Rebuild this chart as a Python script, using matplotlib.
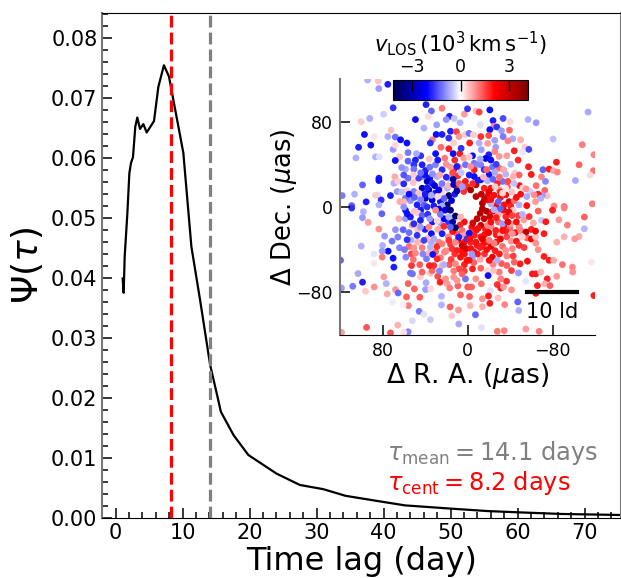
import numpy as np
import matplotlib
matplotlib.use('Agg')
import matplotlib.pyplot as plt
from matplotlib.ticker import MultipleLocator

plt.rcParams['mathtext.fontset'] = 'dejavusans'

# transfer function
tau = [1.04, 1.19, 1.34, 1.74, 2.04, 2.28, 2.58, 2.93, 3.23, 3.63, 4.13, 4.63, 5.72, 6.37, 7.2,
       7.96, 8.46, 9.36, 10.1, 11.3, 12.6, 14.1, 15.3, 15.7, 17.6, 19.8, 24, 27.5, 31, 34.3,
       38.7, 43.2, 50.2, 55.6, 60, 66.6, 75.5]
psi = [.0399, .0375, .0435, .0507, .0574, .0591, .0601, .0652, .0667, .0648, .0656, .0642, .0661, .0718, .0754,
       .0735, .0705, .0652, .0608, .0452, .0363, .0255, .0197, .0177, .0138, .0105, .0074, .0055, .0048, .0037,
       .0029, .0021, .00155, .00115, .00095, .00067, .0005]
tau_mean = 14.1
tau_cent = 8.2

# clouds, (R.A. offset, Dec. offset, v_los), one list per quadrant
clouds_ne = [
 (94,119,-.65),(84,118,.5),(75,115,-1.85),(83.5,111,-.8),(70,93,-1.7),(79,87,-.4),(39,96,-1.85),(34,90,-1.3),
 (24,92.5,1.05),(37,85,.3),(49,82,-2),(100,80,.4),(92,83,-.65),(17,85,-1.85),(12.5,83,-.5),(3,87,.8),(7,79,-.65),
 (29,77,-.8),(20,82,-.9),(41,74,-.65),(72,72,.5),(97,68,-2),(88,66,.2),(75,66,-.65),(68,65.6,-1.15),(63,63,-2),
 (57,60,-2),(102.5,56,-1.85),(91,58,-2),(70,54,-.85),(68,58,.3),(105,46,-.65),(86.6,47,-.65),(83,47,-.25),(56,51,-1.1),
 (64,47,.5),(68,43.6,-2),(56,43,-1.3),(49,44,-1.85),(44,48,-1.7),(33,63,1.05),(35,60,-1.7),(29.5,68,-2),(24,68,-1.85),
 (17.6,64.6,-1.7),(16,71,-1.85),(10.4,70.6,1.55),(8,66,.85),(2,68,.4),
 (68.4,28.3,.7),(83.4,27,-1.9),(83.4,24.8,-2),(67.8,23,.5),(58.4,35.5,-.7),(50.5,39.6,-1.7),(50.5,35.5,-1.15),
 (42.7,39.6,-1.85),(39.6,34.2,-1.85),(35.5,37.4,-1.15),(30.2,39.6,-1.05),(23.9,34.9,-1.75),(17.6,54.6,1.85),(13.5,50,-2),
 (7.3,50,1.85),(21.4,45.8,1.1),(3.5,45.8,.8),(13,34.9,1.9),(8.2,37.4,1),(16,37.4,.8),(2,39.6,-1.15),(35.5,27,-2),
 (28.6,28.6,-.7),(17.6,27,-.65),(9.2,29.2,1.7),(2,24,1.9),(72.5,10.7,-1.9),(98.8,20.7,-1.3),(84.4,11.4,-.25),(106.3,12,-.65),
 (118,10.7,-1.1),(86.6,11,.4),(81.3,6.6,-1.7),(95.4,4.8,-1.85),(109,1.3,-1.3),(83.4,2,-.65),(69.3,22.3,-.65),(65.6,24,.45),
 (60,21.7,-1.75),(51,23,.5),(42.7,28.6,-1.15),(38,24,-3.1),(33.3,22.3,-1.85),(25.5,19,.6),(19,17.6,-.65),(13.5,26,-3.3),
 (9.8,17.6,1.7),(3.5,14.5,1.7),(.4,19,1.75),(66.2,14.5,-.85),(56.8,15.4,.45),(50.5,14.5,-1.05),(42.7,17.6,-2.8),
 (36.4,16,-3.1),(30.2,13,-2),(23.9,13,.3),(17.6,10.7,-3.9),(19,2,-3.7),(25.5,5,-2),(33.3,6.6,-2.4),(39.6,8.2,-2.9),
 (47.4,2,-1.85),(53.7,6,-.9),(58.4,8.2,-1.15),(63.7,5,.7),(41,2,-1.3),(31.7,1,-1.9),(23.9,1,-.7),
]
clouds_nw = [
 (0,92,-1.7),(-8,90,.5),(-11,89,1.55),(-21,91,-2),(-113.5,89,-.7),(-33.5,83,-1.5),(-24,81,-1.85),(-40,80,.3),
 (-57,82,-.65),(-64.6,79,-.85),(-12,77,-.25),(-25,75.6,1),(-27.6,75,-1.7),(-21,72.5,-2),(-32,71.5,-.8),(-39.5,72,1.25),
 (-1.5,69,-1.15),(-5.6,67.8,.4),(-12.5,66,1.7),(-20,67,1.5),(-33.5,66,-1.1),(-42.6,64,-.7),(-50,63,.65),(-38,62,1),
 (-25.7,62.5,-.8),(-80.6,63.7,-.5),(-2,60,1.85),(-11,60,-.65),(-19,59.6,.8),(-108,58.4,1.05),(-54,56,.4),(-57.7,54,-1.5),
 (-26.6,56,-.8),(-13,53.7,-.8),(-44,52.7,1.85),(-51.7,51.8,-.2),(-119,49,1),(-37,48,.8),(-29.8,47.4,.85),
 (-25.7,52,1),(-20,49,-1.85),(-4.7,48,-2),(-1.6,47,.4),(-17,45.5,-2.4),(-22,44,-2),(-47.6,44,1.75),(-83.7,42,1.9),
 (-105,39.6,1.3),(-6.3,41,-1.15),(-12.5,39.5,-1.05),(-40.7,40,-.65),(-57.4,37.7,1.85),(-71,35,-1.3),(-76.8,35.5,1.9),
 (-81,34,.7),(-84.6,32.7,1),(-118.5,34,1.15),(-29.8,36.4,1.15),(-23.5,37.4,-1.15),(-6.3,35,1.85),(-15.7,35,-1.7),
 (-1.6,30,-1.85),(-6.3,28.6,-2),(-12.5,25.5,-2.4),(-20.4,30.5,-2),(-25.7,32.4,-.7),(-36,30.8,-.6),(-44.5,31.7,.45),
 (-48.6,30,1.25),(-60,30.5,1.9),(-69.6,28.3,1),(-73.4,24,-1),(-101.6,24.8,-.7),(-115.4,30,.3),(-64.6,20,1.15),
 (-43,28.6,.65),(-18.8,24.5,-.65),(-33,24,-1.15),(-28,22,1.85),(-37.6,19,1.3),(-22,17.6,2),(-15.7,17.6,1.85),(-8,20.8,3.1),
 (-3,16,3.5),(-49,20,2),(-59,14.5,-.4),(-72.7,15.5,1.3),(-75,10.4,.5),(-70.5,11,-.8),(-66.5,12,1.85),(-62.7,11.4,.9),
 (-50,12,2),(-55.8,9.8,-.7),(-69,8.2,-.65),(-64,5,.85),(-117.5,3,1.1),(-81.5,1,1),(-91,.4,1.25),(-55.8,1.3,2),
 (-48.6,2,-.65),(-14,3.5,3.3),(-8,9.8,3.1),(-18.8,9.8,2.5),(-25,11,2),(-31,9,2),(-36,11.4,2),(-39,5,2.8),(-34.5,2,2),
 (-26.6,1.3,2.2),(-22,3,-.65),(-40.7,.9,1.85),(-19,6.6,1.9),(-30,16,.9),(-36,17.6,.2),
]
clouds_se = [
 (109,-1,-1.7),(98,-4.4,-.65),(98.8,-10,-.85),(80.6,-6.3,-1.3),(93.5,-14.4,.8),(83.4,-20.7,.9),(67.8,-21.3,-.9),
 (60.6,-21.3,-1.3),(78,-27.3,-.85),(65.6,-28.2,-1.05),(71,-32,-1.15),(56.8,-30.7,-1.7),(100,-36.7,-.65),(80,-36,-.65),
 (74.7,-41.4,-2),(80.3,-41.4,-.8),(88,-44,-.2),(64,-38.2,-1),(55,-37,1.15),(59.3,-40,-1.1),(80.3,-47,1.05),(70,-48,-2),
 (88,-52.7,.2),(69.3,-56.4,-1.85),(51.8,-62.7,-1.15),(103,-62.4,-.7),(78.7,-65.5,.8),(76.5,-71.8,-.65),(98.8,-70.5,-1.85),
 (108,-74.3,-1.1),(87.8,-75,.9),(96,-79,.45),(118.6,-76,-.8),(75.6,-81.5,.7),(67.8,-77.4,.85),(65.3,-80.6,-1.25),
 (57.4,-84.3,1.3),(55.6,-92.5,1.05),(60.6,-91.8,.15),(44.9,-84.6,1.35),(70.6,-89.3,-.15),(24.5,-91.8,-.65),(16.4,-93.7,1.3),
 (14.8,-101.9,.45),(8.5,-96.6,.85),(8.2,-109.7,-.7),(45.5,-97.8,-1.1),(41,-100.6,-.25),(34.9,-105.6,-.45),(52,-106.6,-.3),
 (65.6,-110.7,.65),(95,-112.9,1.4),(72.5,-118,1.4),(55.9,-117,-1),(60,-117.6,.25),(119.5,-50,-1.3),(118.6,-117.6,.8),
 (55.9,-71.8,1.3),(50,-76.8,1.3),(39,-71,-.7),(39.5,-77.4,-.8),(25.8,-70.5,1.85),(16.7,-75.9,1.05),(6.6,-82.4,1.3),(-.2,-75,1.4),
 (24.5,-83.7,-.6),(34.5,-76.8,.3),(44.3,-65.5,.4),(53.7,-62,-1.15),(42.7,-61,1.3),(33.3,-59.6,1.25),(26.4,-60,-1),
 (20.7,-67.4,.9),(12.9,-65.8,.9),(9.8,-69,.85),(1.9,-67.4,-1.15),(5.1,-62.7,1.3),(31.7,-54.9,1.7),(35.8,-54.9,1.85),
 (44.9,-54,1.35),(52.7,-54.9,1.7),(51,-49.2,1.15),(38.6,-48.6,-1.1),(32.7,-44.5,-2),(25.5,-47.6,1.1),(15.4,-49.2,1.6),
 (22.3,-54,-.65),(11.4,-53.3,1),(2.9,-54,1.85),(28.6,-48.6,1.75),(49,-43.3,1),(42.7,-38.2,1.05),(50.5,-38.2,.9),
 (34.9,-37.6,-.65),(28.6,-37,1.75),(21.7,-42.3,1),(14.5,-39.2,1.7),(9.8,-40.8,1.85),(2.9,-44,2),(6.6,-47,2),(.4,-50,2),
 (5.1,-36,2.8),(1,-39,2.8),(58.4,-3,-1.85),(64.6,-11,.65),(58.4,-11,-.85),(53.7,-9.4,-1.85),(46.8,-5.6,.4),(42.7,-7.8,-1.3),
 (37.4,-6.9,-1.7),(30,-3,1),(25.5,-7,-1.1),(11.4,-8.5,-3.9),(17.6,-9.4,-.65),(6.6,-9.4,.65),(28.6,-13,.3),(22.3,-18.2,1.75),
 (11.4,-19.4,-3.9),(16.1,-18.8,-1.3),(23.9,-25,-1.85),(31.7,-29.8,-.7),(44.3,-18.8,-.8),(52,-17,.8),(36.4,-18.8,1),
 (47.4,-26.6,-1.7),(38,-29.8,.65),(41,-31.3,-1.55),(17.6,-31.3,1.7),(11.4,-33,1),(23.9,-34.5,1.05),(3.5,-26.6,.85),
 (8.2,-28.2,-1.85),(.4,-29.8,-1.7),(56.8,-6.3,-2),(50.5,-15.7,-1.75),(44.3,-12.5,-1.85),(35.5,-11,-.85),(60,0,-.9),(38,0,-1.7),
]
clouds_sw = [
 (-14,-1.6,3.3),(-25,-2.5,-.65),(-31,-1.6,-1.3),(-39,-4.7,2.4),(-51.7,-7,-.65),(-66.5,-3.8,1.3),(-80,-3,1.85),(-91,-1,1),
 (-110,-9.4,1.3),(-86,-12,.85),(-69.6,-12.5,-.45),(-73.7,-13.8,1.9),(-94,-17,1.05),(-110,-20.4,-.6),(-105,-27.6,.7),
 (-101,-29.8,.85),(-91,-28,.65),(-84,-33,.65),(-60,-21,1.85),(-64,-22.6,2.2),(-72,-25,1.9),(-55,-23.5,3.1),(-48.6,-18.8,1),
 (-40.7,-15.7,.85),(-33,-15.7,-.8),(-15.7,-11,3.1),(-12.5,-17.2,2.9),(-18.8,-17.2,1),(-26.6,-22,1.85),(-36,-22.6,1.85),
 (-42.3,-25,.9),(-51.7,-28,.4),(-64.3,-33.9,.9),(-48.6,-36,1.7),(-53.3,-38,1.6),(-66.5,-40,.9),(-42.3,-39,1),
 (-31,-30,2.4),(-27,-33,2),(-20.4,-31.3,1.1),(-12.5,-28,1.9),(-6.3,-26.6,1.85),(-1.6,-24.5,-2),(-7.8,-33,2),(-14,-36,2),
 (-3,-39,2),(-9.4,-44,1.9),(-4.7,-47,-.85),(-1.6,-50,2),(-23.5,-47,2.4),(-20.4,-50,2),(-28,-50,-.65),(-36,-40.7,.9),
 (-72,-46.4,1.85),(-76.8,-50,1.9),(-81,-50,.7),(-89.3,-54,1.15),(-98.7,-56.4,1),(-99,-61,.9),(-116.6,-51.7,.2),
 (-56.4,-50.8,2),(-49.5,-53.3,1.9),(-44,-51.7,1.25),(-37,-54.9,1.3),(-48,-61.8,-.85),(-41.4,-59.6,1.6),(-29.8,-61,1.1),
 (-24.5,-59.6,.5),(-12.5,-57.4,1.3),(-18.8,-59.6,.3),(-4.7,-58,1.85),(-19.4,-64.3,-2),(-61,-62.7,1.9),(-64.3,-62.7,1.9),
 (-69,-61,.65),(-75,-67.4,1.85),(-84,-65,.85),(-54.9,-69.6,-.2),(-36.7,-69.6,1.75),(-31.3,-67.4,1.05),(-7.8,-67.4,.9),
 (-13,-72,1.15),(-28,-72.7,1.7),(-31.3,-76,1.85),(-33.9,-75,.8),(-41.4,-77.7,.9),(-65.8,-73.7,1.85),(-72.7,-72,.65),
 (-77.7,-73.7,1.3),(-64.3,-80.9,2),(-3.8,-75,1.3),(-21.3,-78.4,-.25),(-119,-83,1.9),(-1.9,-84,1.3),(-19.7,-83.4,1.85),(-14,-86,.9),
 (-28.8,-85.3,.5),(-21,-90.3,1.85),(-35,-91.5,1),(-47.3,-89,-1.3),(-48.3,-97,-.65),(-2.5,-92.5,.6),(-7.5,-101,-1.25),
 (-14,-93.4,.65),(-13.2,-113,-.25),(-28,-116.6,1.1),(-34.5,-116,1),(-54.9,-114.4,.8),(-67.4,-116.6,1.05),
 (-3,-33,1.85),(-10,-20,2),(-16,-26,2),(-22,-14,2),(-27,-10,1.85),(-33,-22,2),(-38,-14,2.5),(-42,-8,1.6),(-46,-14,2),
 (-5,-15,2.8),(-9,-11,3.1),(-12,-38,1.85),(-18,-40,2),(-6,-42,2),(-14,-30,2.5),(-20,-24,2.2),(-25,-34,1.05),(-30,-44,1.9),
 (-2,-30,2),(-4,-44,-.85),
]
# the crowded part round the hole in the middle
clouds_core = [
 (12,12,-1.9),(15,6,-2.5),(10,15,-3),(22,8,-1.3),(28,10,.3),(27,16,-2.2),(34,11,-.7),(40,12,-1.9),(44,7,-1),(46,13,.5),
 (50,9,-1.3),(55,12,-2),(60,5,.6),(62,14,-.5),(38,18,-1.9),(31,20,-2.5),(24,22,-1.1),(18,20,.6),(13,21,-2.9),(8,22,1.3),
 (5,19,-.8),(20,28,-1.8),(26,30,.7),(33,31,-.9),(40,30,-2),(46,27,-1.6),(51,30,.4),(56,27,-1.2),(14,32,1.5),(10,38,-1.9),
 (6,32,-.5),(20,40,.9),(28,44,-1.9),(36,45,.5),(44,32,-1.2),(60,30,-1.4),(62,37,-.9),(48,50,-.7),(30,50,-2),(25,56,1.2),
 (12,44,1.8),(6,55,-1.7),(13,60,.4),
 (-5,22,1.8),(-10,25,-1.9),(-15,28,.6),(-18,35,1.3),(-9,40,-1),(-3,38,.9),(-24,26,-1.3),(-30,28,1.2),(-12,45,-.7),
 (-27,40,-1.6),(-34,35,.7),(-38,24,1.5),(-44,22,-.5),(-42,14,.5),(-31,14,1.9),(-26,19,.4),(-13,12,3.2),(-20,14,2.5),
 (-16,7,3),(-22,7,2),(-29,5,-1.3),(-33,13,.3),(-44,6,1.2),(-46,9,2),(-52,18,.3),(-55,17,.9),
 (-12,-6,3.3),(-18,-4,3.4),(-21,-9,2.8),(-24,-4,2.2),(-29,-7,.7),(-34,-3,2.1),(-36,-9,1.8),(-43,-3,.4),(-48,-8,1.6),
 (-53,-12,.8),(-58,-9,1.7),(-62,-15,.7),(-29,-14,1.3),(-34,-18,2),(-40,-20,1.2),(-45,-24,2),(-50,-22,1),(-56,-29,1.3),
 (-60,-30,2.2),(-64,-28,.5),(-17,-21,1.9),(-22,-18,1),(-27,-26,1.9),(-31,-25,.6),(-37,-28,1.5),(-41,-32,.9),(-46,-32,1.9),
 (-8,-22,2),(-4,-19,2),(-3,-24,1.6),(-9,-36,1.9),(-17,-33,2),(-22,-37,2.3),(-16,-44,1.7),(-26,-41,1.9),(-33,-37,1.2),
 (-37,-46,1),(-43,-46,1.6),(-12,-49,.7),(-24,-54,1),(-6,-52,1.3),(-32,-53,1.4),
 (3,-14,2),(7,-17,1.8),(5,-22,1.2),(10,-25,1.3),(14,-23,2),(18,-28,1),(9,-31,2.4),(3,-33,2),(6,-41,2),(12,-44,1.7),
 (16,-35,1.6),(20,-41,.9),(27,-33,1),(34,-33,-.7),(30,-42,1.3),(36,-43,.6),(42,-44,-1),(47,-33,.6),(53,-44,1.5),(58,-47,-1),
 (17,-54,1.4),(8,-58,1.5),(13,-60,1.1),(24,-55,.6),(28,-65,1.5),(35,-62,.5),(19,-72,.8),(9,-74,1.3),(3,-60,1.6),(12,-11,.5),
 (18,-14,-1.7),(25,-15,-.7),(33,-14,-1.9),(22,-11,-2.2),(40,-21,-1.9),(28,-21,.7),(47,-21,.5),(55,-24,-1.2),(53,-31,-.6),
 (34,-25,-2),(44,-3,-1.9),(50,-4,.5),(27,-2,-2.4),(21,-3,-2.7),(16,-3,-3.6),(14,-14,-3.2),
]

fig = plt.figure(figsize=(6.21, 5.78), dpi=100)
ax = fig.add_axes([102.3/621, 1-518/578, (620.7-102.3)/621, (518-13)/578])
ax.plot(tau, psi, color='k', lw=1.6)
ax.axvline(tau_cent, color='red', ls='--', lw=2.3)
ax.axvline(tau_mean, color='gray', ls='--', lw=2.3)
ax.set_xlim(-2, 75.4)
ax.set_ylim(0, 0.0841)
ax.xaxis.set_major_locator(MultipleLocator(10))
ax.xaxis.set_minor_locator(MultipleLocator(2))
ax.yaxis.set_major_locator(MultipleLocator(0.01))
ax.yaxis.set_minor_locator(MultipleLocator(0.002))
ax.tick_params(which='major', direction='in', length=7.5, width=1.1, labelsize=15)
ax.tick_params(which='minor', direction='in', length=4.5, width=1.1)
for side in ['left', 'right']:
    ax.spines[side].set_color('#777777')
    ax.spines[side].set_linewidth(1.5)
ax.set_xlabel('Time lag (day)', fontsize=23, labelpad=2)
ax.set_ylabel(r'$\Psi(\tau)$', fontsize=26, labelpad=4)
ax.text(0.55, 0.115, r'$\tau_{\rm mean} = 14.1$ days', color='gray', fontsize=17.3, transform=ax.transAxes)
ax.text(0.55, 0.055, r'$\tau_{\rm cent} = 8.2$ days', color='red', fontsize=17.3, transform=ax.transAxes)

# inset with the BLR clouds
ins = fig.add_axes([340/621, 1-335/578, 255/621, 256/578])
cloud_pts = np.array(clouds_ne + clouds_nw + clouds_core + clouds_se + clouds_sw)
sc = ins.scatter(cloud_pts[:, 0], cloud_pts[:, 1], c=cloud_pts[:, 2], cmap='seismic', vmin=-4.2, vmax=4.2, s=24, lw=0)
ins.set_xlim(120, -120)
ins.set_ylim(-120, 120)
ins.set_xticks([80, 0, -80])
ins.set_yticks([80, 0, -80])
ins.tick_params(direction='in', length=7.5, width=1.1, labelsize=12.5, pad=5)
ins.spines['top'].set_visible(False)
ins.spines['right'].set_visible(False)
ins.spines['left'].set_color('#777777')
ins.spines['left'].set_linewidth(1.5)
ins.patch.set_alpha(0)
ins.set_xlabel(r'$\Delta$ R. A. ($\mu$as)', fontsize=19, labelpad=1)
ins.set_ylabel(r'$\Delta$ Dec. ($\mu$as)', fontsize=18.5, labelpad=-2)
ins.plot([-56, -103], [-80, -80], color='k', lw=3)
ins.text(-80, -98, '10 ld', fontsize=15, ha='center', va='center')

cax = fig.add_axes([393/621, 1-100/578, 135/621, 20/578])
cb = fig.colorbar(sc, cax=cax, orientation='horizontal')
cb.set_ticks([-3, 0, 3])
cb.ax.xaxis.set_ticks_position('top')
cb.ax.tick_params(direction='in', length=8, width=1, labelsize=12.5, pad=3)
cb.ax.set_title(r'$v_{\rm LOS}\,(10^3\,{\rm km\,s^{-1}})$', fontsize=15.2, pad=3)

fig.savefig('out.png', dpi=100)
